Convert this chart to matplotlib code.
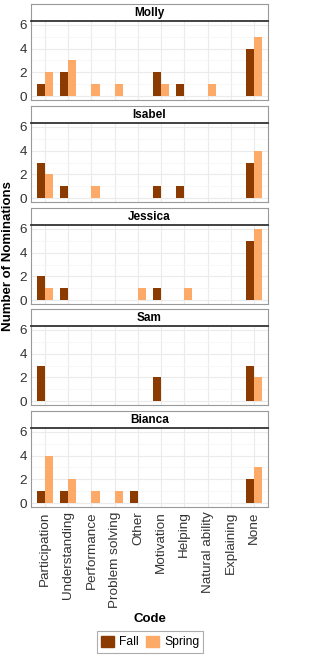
import numpy as np
import matplotlib.pyplot as plt

plt.rcParams['font.family'] = ['Liberation Sans', 'DejaVu Sans']

codes = ['Participation', 'Understanding', 'Performance', 'Problem solving', 'Other',
         'Motivation', 'Helping', 'Natural ability', 'Explaining', 'None']
students = ['Molly', 'Isabel', 'Jessica', 'Sam', 'Bianca']

fall = {
    'Molly':   [1, 2, 0, 0, 0, 2, 1, 0, 0, 4],
    'Isabel':  [3, 1, 0, 0, 0, 1, 1, 0, 0, 3],
    'Jessica': [2, 1, 0, 0, 0, 1, 0, 0, 0, 5],
    'Sam':     [3, 0, 0, 0, 0, 2, 0, 0, 0, 3],
    'Bianca':  [1, 1, 0, 0, 1, 0, 0, 0, 0, 2],
}
spring = {
    'Molly':   [2, 3, 1, 1, 0, 1, 0, 1, 0, 5],
    'Isabel':  [2, 0, 1, 0, 0, 0, 0, 0, 0, 4],
    'Jessica': [1, 0, 0, 0, 1, 0, 1, 0, 0, 6],
    'Sam':     [0, 0, 0, 0, 0, 0, 0, 0, 0, 2],
    'Bianca':  [4, 2, 1, 1, 0, 0, 0, 0, 0, 3],
}

fall_col = '#8B3A00'
spring_col = '#FDAA69'

W, H = 309, 657
fig = plt.figure(figsize=(W / 100, H / 100), dpi=100)

left, right = 31, 268
strip_h, plot_h = 17, 79
tops = [4, 106, 208, 309, 411]
x = np.arange(len(codes))
bw = 0.35

for name, top in zip(students, tops):
    # strip above each panel
    sax = fig.add_axes([left / W, 1 - (top + strip_h) / H, (right - left) / W, strip_h / H])
    sax.set_xticks([])
    sax.set_yticks([])
    for s in sax.spines.values():
        s.set_color('#999999')
    sax.text(0.5, 0.45, name, ha='center', va='center', fontsize=8.5, fontweight='bold',
             transform=sax.transAxes)

    ax = fig.add_axes([left / W, 1 - (top + strip_h + plot_h) / H, (right - left) / W, plot_h / H])
    ax.bar(x - bw / 2, fall[name], bw, color=fall_col, zorder=3)
    ax.bar(x + bw / 2, spring[name], bw, color=spring_col, zorder=3)
    ax.set_xlim(-0.6, len(codes) - 0.4)
    ax.set_ylim(-0.3, 6.3)
    ax.set_yticks([0, 2, 4, 6])
    ax.set_yticks([1, 3, 5], minor=True)
    ax.set_xticks(x)
    ax.grid(True, which='major', color='#EBEBEB', linewidth=0.8, zorder=0)
    ax.grid(True, which='minor', axis='y', color='#F4F4F4', linewidth=0.5, zorder=0)
    ax.tick_params(length=0, which='both', labelsize=9.7, labelcolor='#333333', pad=3)
    for s in ax.spines.values():
        s.set_color('#999999')
    ax.spines['top'].set_color('#333333')
    ax.spines['top'].set_linewidth(1.3)
    if name != students[-1]:
        ax.set_xticklabels([])
    else:
        ax.set_xticklabels(codes, rotation=90)
        ax.set_xlabel('Code', fontsize=9.5, fontweight='bold', labelpad=4)

fig.text(8 / W, 1 - 256 / H, 'Number of Nominations', rotation=90, ha='center', va='center',
         fontsize=9.5, fontweight='bold')

# legend at the bottom
handles = [plt.Rectangle((0, 0), 1, 1, color=fall_col), plt.Rectangle((0, 0), 1, 1, color=spring_col)]
leg = fig.legend(handles, ['Fall', 'Spring'], loc='center', bbox_to_anchor=(150 / W, 1 - 642 / H),
                 ncol=2, frameon=True, fancybox=False, fontsize=8.7, handlelength=1.1,
                 handleheight=1.1, handletextpad=0.4, columnspacing=0.6, borderpad=0.35)
leg.get_frame().set_edgecolor('#999999')
leg.get_frame().set_linewidth(0.8)

fig.savefig('out.png', dpi=100)
